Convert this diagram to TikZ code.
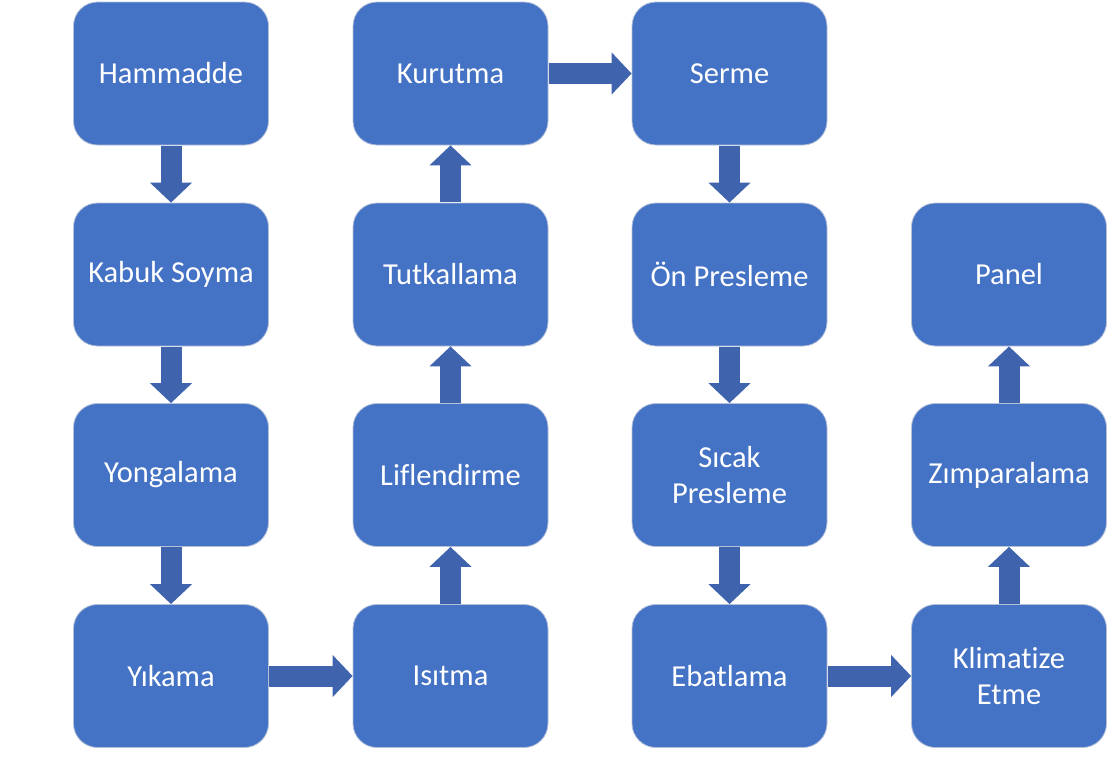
\documentclass[tikz,border=0pt]{standalone}
\usepackage{fontspec}
\setmainfont{Carlito}[Ligatures={NoCommon}]
\usetikzlibrary{arrows.meta}
\definecolor{boxblue}{HTML}{4472C4}
\definecolor{arrowblue}{HTML}{3F64AD}
\definecolor{boxedge}{HTML}{B4C0D8}
\tikzset{
  stepbox/.style={draw=boxedge, line width=0.8pt, fill=boxblue, rounded corners=24pt,
    minimum width=195pt, minimum height=143pt, inner sep=0pt, text=white,
    align=center, font=\fontsize{30.5}{36}\selectfont},
  blockarrow/.style={draw=arrowblue, line width=21pt,
    -{Triangle[width=41pt,length=20pt]}, shorten <=0.4pt}
}
\begin{document}
\begin{tikzpicture}[x=1pt,y=1pt]
\useasboundingbox (0,0) rectangle (1108,-756);
% column centres: 171, 450.5, 729.5, 1009 ; row centres: 73.5, 274.5, 475, 676
\node[stepbox] (hammadde)  at (171,-73.5) {Hammadde};
\node[stepbox] (kabuk)     at (171,-274.5) {Kabuk Soyma};
\node[stepbox] (yongalama) at (171,-475) {Yongalama};
\node[stepbox] (yikama)    at (171,-676) {Yıkama};
\node[stepbox] (isitma)    at (450.5,-676) {Isıtma};
\node[stepbox] (lif)       at (450.5,-475) {Liflendirme};
\node[stepbox] (tutkal)    at (450.5,-274.5) {Tutkallama};
\node[stepbox] (kurutma)   at (450.5,-73.5) {Kurutma};
\node[stepbox] (serme)     at (729.5,-73.5) {Serme};
\node[stepbox] (onpres)    at (729.5,-274.5) {Ön Presleme};
\node[stepbox] (sicak)     at (729.5,-475) {Sıcak\\Presleme};
\node[stepbox] (ebat)      at (729.5,-676) {Ebatlama};
\node[stepbox] (klima)     at (1009,-676) {Klimatize\\Etme};
\node[stepbox] (zimpara)   at (1009,-475) {Zımparalama};
\node[stepbox] (panel)     at (1009,-274.5) {Panel};

\draw[blockarrow] (hammadde.south) -- (kabuk.north);
\draw[blockarrow] (kabuk.south) -- (yongalama.north);
\draw[blockarrow] (yongalama.south) -- (yikama.north);
\draw[blockarrow] (yikama.east) -- (isitma.west);
\draw[blockarrow] (isitma.north) -- (lif.south);
\draw[blockarrow] (lif.north) -- (tutkal.south);
\draw[blockarrow] (tutkal.north) -- (kurutma.south);
\draw[blockarrow] (kurutma.east) -- (serme.west);
\draw[blockarrow] (serme.south) -- (onpres.north);
\draw[blockarrow] (onpres.south) -- (sicak.north);
\draw[blockarrow] (sicak.south) -- (ebat.north);
\draw[blockarrow] (ebat.east) -- (klima.west);
\draw[blockarrow] (klima.north) -- (zimpara.south);
\draw[blockarrow] (zimpara.north) -- (panel.south);
\end{tikzpicture}
\end{document}
